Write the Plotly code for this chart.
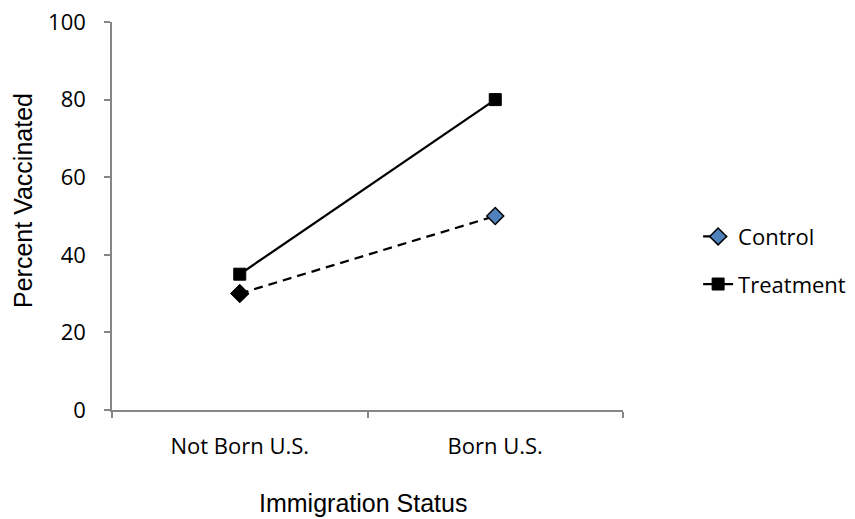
import plotly.graph_objects as go

categories = ["Not Born U.S.", "Born U.S."]
control = [30, 50]
treatment = [35, 80]
y_ticks = [0, 20, 40, 60, 80, 100]

AXIS_GRAY = "#868686"
TICK_FONT = dict(family="Open Sans, Carlito, Calibri, sans-serif", size=22, color="#000000")
TITLE_FONT = dict(family="Liberation Sans, Arial, sans-serif", size=25, color="#000000")

fig = go.Figure()

fig.add_trace(go.Scatter(
    x=categories, y=control, name="Control", mode="lines+markers",
    legendgroup="control",
    line=dict(color="#000000", width=2.25, dash="9px,6px"),
    marker=dict(symbol="diamond", size=13, color="#4F81BD",
                line=dict(color="#000000", width=1.5)),
))
# first control point is drawn with a solid black fill
fig.add_trace(go.Scatter(
    x=categories[:1], y=control[:1], mode="markers", showlegend=False,
    legendgroup="control",
    marker=dict(symbol="diamond", size=13, color="#000000",
                line=dict(color="#000000", width=1.5)),
))
fig.add_trace(go.Scatter(
    x=categories, y=treatment, name="Treatment", mode="lines+markers",
    legendgroup="treatment",
    line=dict(color="#000000", width=2.25),
    marker=dict(symbol="square", size=12, color="#000000",
                line=dict(color="#000000", width=1)),
))

fig.update_layout(
    width=855, height=519,
    margin=dict(l=112, r=232, t=22, b=109, autoexpand=False),
    paper_bgcolor="#ffffff", plot_bgcolor="#ffffff",
    showlegend=True,
    legend=dict(x=1.147, xanchor="left", y=0.385, yanchor="middle",
                font=TICK_FONT, tracegroupgap=16,
                bgcolor="rgba(0,0,0,0)"),
    xaxis=dict(
        type="category", range=[-0.5, 1.5], automargin=False,
        showline=True, linecolor=AXIS_GRAY, linewidth=1.5,
        ticks="outside", ticklen=6, tickcolor=AXIS_GRAY, tickwidth=1.5,
        tickson="boundaries", showgrid=False, zeroline=False,
        tickfont=TICK_FONT, ticklabelstandoff=16,
    ),
    yaxis=dict(
        range=[0, 100], tickvals=y_ticks, automargin=False,
        showline=True, linecolor=AXIS_GRAY, linewidth=1.5,
        ticks="outside", ticklen=6, tickcolor=AXIS_GRAY, tickwidth=1.5,
        showgrid=False, zeroline=False,
        tickfont=TICK_FONT, ticklabelstandoff=14,
    ),
    annotations=[
        dict(text="Immigration Status", xref="paper", yref="paper",
             x=0.491, y=-0.24, xanchor="center", yanchor="middle",
             showarrow=False, font=TITLE_FONT),
        dict(text="Percent Vaccinated", xref="paper", yref="paper",
             x=-0.174, y=0.539, xanchor="center", yanchor="middle",
             textangle=-90, showarrow=False, font=TITLE_FONT),
    ],
)

fig.write_html("out.html")
